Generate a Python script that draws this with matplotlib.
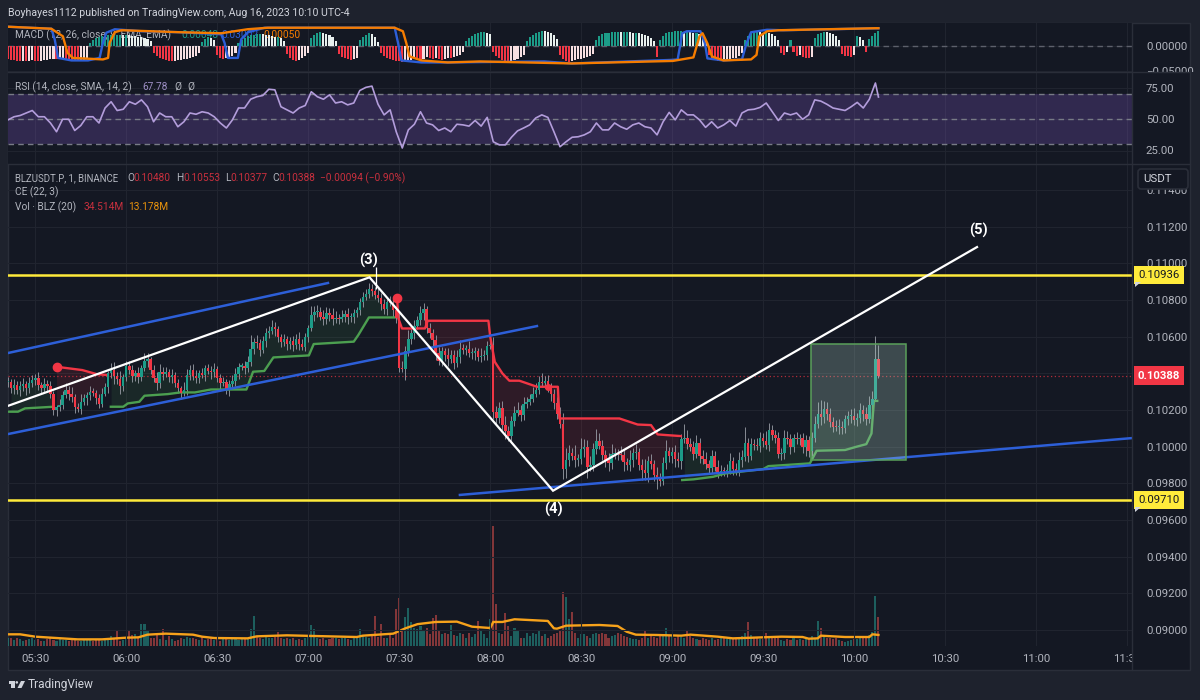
import matplotlib
matplotlib.use("Agg")
import matplotlib.pyplot as plt
import numpy as np
from matplotlib.patches import Circle, Polygon, Rectangle, FancyBboxPatch
from matplotlib.transforms import Bbox

plt.rcParams['font.family'] = ['Roboto', 'DejaVu Sans']

# candle data, prices in 1e-5 units, one candle per minute from 05:21
closes = [10353,10320,10337,10309,10331,10342,10320,10348,10364,10375,10337,10320,10342,10331,10290,10200,10216,10230,10280,10310,
          10290,10270,10215,10205,10245,10265,10280,10300,10295,10265,10235,10290,10325,10400,10420,10385,10370,10330,10380,10440,
          10420,10385,10400,10380,10430,10465,10480,10420,10375,10345,10410,10395,10405,10380,10390,10345,10320,10295,10310,10390,
          10420,10385,10375,10400,10390,10430,10415,10405,10425,10375,10345,10355,10310,10340,10360,10395,10437,10440,10430,10460,
          10535,10570,10565,10530,10575,10620,10630,10655,10640,10600,10570,10585,10560,10575,10555,10590,10560,10545,10600,10650,
          10720,10735,10735,10710,10695,10730,10720,10695,10700,10695,10710,10725,10705,10705,10730,10745,10790,10815,10835,10860,
          10850,10830,10810,10780,10750,10790,10785,10745,10700,10430,10425,10520,10590,10620,10660,10690,10730,10750,10650,10620,
          10580,10510,10465,10520,10500,10480,10500,10455,10490,10535,10530,10535,10510,10510,10520,10490,10495,10500,10550,10555,
          10190,10155,10210,10120,10085,10060,10140,10185,10200,10175,10235,10245,10260,10290,10310,10355,10345,10360,10330,10290,
          10240,10180,10125,9880,9925,9965,9950,9930,9935,9990,10000,9890,9900,9990,10030,10005,9955,9925,9910,9960,
          9965,9960,9955,9915,9900,9930,9965,9970,9900,9875,9855,9920,9905,9845,9825,9815,9910,9975,9950,9970,
          9935,9920,10040,10050,10015,10000,9960,10020,9950,9935,9905,9885,9950,9890,9860,9870,9865,9870,9920,9880,
          9870,9930,9945,10020,9950,10015,10010,10005,10050,10030,10010,10090,10065,10045,9960,9965,10050,10040,10000,10045,
          10040,10045,10000,10035,9975,10045,10125,10180,10160,10205,10180,10135,10110,10105,10110,10100,10150,10165,10170,10145,
          10155,10200,10180,10150,10225,10260,10480,10388]
wick_up = [25,15,30,20,25,35,15,30,25,20,30,15,35,20,25,15,10,30,25,40,
           20,35,15,25,40,25,20,30,20,15,25,30,20,15,35,40,25,45,15,30,
           30,25,20,35,15,45,30,10,25,35,40,25,30,20,35,15,25,10,45,35,
           25,30,35,20,30,15,20,25,30,15,20,25,15,25,30,35,20,15,30,35,
           75,25,40,20,30,25,30,35,25,20,15,30,20,25,30,25,35,25,20,15,
           45,30,40,25,35,30,25,35,40,25,35,20,30,25,20,15,20,30,25,35,
           25,20,35,30,25,15,30,25,20,30,40,30,45,20,30,25,40,35,15,25,
           20,30,35,25,20,40,30,25,35,45,25,20,40,30,25,20,45,30,25,35,
           45,30,35,40,50,30,25,35,45,30,35,25,30,35,40,30,45,25,30,20,
           25,30,35,60,70,45,30,60,25,55,40,35,50,30,65,45,30,25,40,55,
           30,25,45,35,25,50,30,45,25,35,60,30,40,25,45,30,35,60,25,30,
           40,35,30,75,40,35,30,45,25,30,35,20,30,25,40,30,20,35,45,25,
           30,40,35,85,30,35,25,40,30,25,55,40,30,25,35,30,40,35,30,25,
           35,25,30,30,25,35,40,65,75,45,40,30,25,35,40,30,25,30,35,40,
           30,40,25,35,50,45,123,73]
wick_dn = [30,25,35,20,30,25,40,25,20,30,25,35,20,30,25,25,30,20,25,15,
           35,25,30,15,25,20,35,25,20,30,25,20,15,30,25,45,30,40,25,20,
           25,30,25,35,20,15,30,25,20,35,25,30,15,25,30,20,25,35,20,30,
           25,20,30,25,15,30,20,35,25,20,30,15,25,35,20,30,25,20,35,25,
           20,30,25,35,20,30,25,15,35,30,25,20,30,25,35,20,30,15,25,30,
           20,35,25,20,30,25,35,30,20,25,15,30,35,25,30,20,25,30,15,25,
           30,25,20,35,25,30,20,35,25,20,20,60,25,30,35,20,25,40,30,25,
           30,35,20,25,30,40,25,30,20,35,25,30,20,30,35,25,30,20,25,15,
           40,35,25,30,45,30,40,25,20,35,30,25,20,15,20,25,20,25,30,40,
           35,30,25,55,50,30,25,40,35,30,45,60,25,35,30,20,25,35,40,30,
           25,35,30,45,25,35,40,30,25,55,35,50,25,30,55,30,25,30,35,40,
           45,30,40,20,30,25,35,20,40,30,25,35,30,25,30,20,25,30,20,35,
           25,30,40,25,35,20,30,25,35,30,25,35,30,25,20,35,30,25,40,30,
           25,30,35,50,30,25,20,25,40,30,35,25,30,20,35,30,25,30,35,25,
           30,25,40,30,20,25,10,11]

# volume in millions
volumes = [9,10,7,9,8,6,7,8,9,7,8,6,6,8,9,7,6,10,7,7,
           6,7,8,6,6,7,8,8,6,7,7,6,8,8,12,10,18,6,7,8,
           18,13,14,9,26,26,19,10,9,14,8,20,7,12,8,6,7,10,8,11,
           10,9,8,7,11,7,8,10,7,8,6,9,8,7,9,8,7,8,9,9,
           20,36,11,9,8,13,10,9,11,17,9,8,9,8,10,7,8,7,9,11,
           25,20,10,8,9,7,8,10,9,8,9,9,8,7,10,12,20,12,11,10,
           12,36,11,26,10,9,14,10,44,57,20,34,45,28,22,20,24,18,22,14,
           33,37,18,14,16,14,25,13,12,15,14,10,16,11,14,30,18,14,10,32,
           143,50,16,14,39,24,12,22,18,10,10,16,12,16,14,18,12,14,10,12,
           14,16,18,64,58,32,40,16,10,14,14,12,10,14,16,14,16,14,10,12,
           13,15,14,12,11,10,8,8,7,9,18,10,12,11,10,12,14,22,13,12,
           10,12,11,10,18,12,10,8,7,9,8,7,9,7,8,10,9,8,9,10,
           9,8,12,16,29,13,10,9,8,8,16,10,11,10,9,7,6,8,7,9,
           7,8,7,9,8,12,10,30,22,11,9,10,8,9,7,6,5,6,7,8,
           8,9,11,12,13,17,60,34.514]
vol_ma_idx = [0,4,9,16,23,31,39,43,46,52,61,64,68,79,82,92,101,115,117,127,131,135,141,148,153,159,160,163,167,178,180,181,184,195,
              201,204,207,214,222,225,234,239,255,262,264,267,268,276,284,285,287]
vol_ma = [13.9,13.9,11.1,9.5,7.9,7.9,9.9,10.3,13.5,14.7,13.5,11.1,9.5,9.1,11.5,12.7,11.9,10.7,12.3,14.7,21,26,28.6,29,23,21.4,28.6,28.6,31.8,29.8,21,20.6,24.2,25,
          23.8,17,13.5,13.1,12.3,13.5,11.1,9.1,11.1,10.7,8.7,9.1,12.3,10.7,10.7,13.9,13.178]

# RSI, every second candle plus the last one
rsi_vals = [49.5,52,53,55,57,52,52,47,40,50,50,41,45,52,52,47,59,64,57,58,64,62,65.5,60,48,55,52,52,44,48,55,54,56,55,52,47,43,49.5,59,59,
            66,68,69,74,73.5,60,57.5,55,59,61,72,68,66,69.5,63,64,61.5,63,73,75.5,76.5,62,53.5,57.5,40,27,41.5,46,56,47,45.5,41,43,40,46,45.5,44.5,49,44.5,51.5,
            32,29.5,29.5,35.6,40.7,43,45.5,51,53.5,51.5,40,28,32,35.6,36,37.5,40,47,41.5,41.5,47,44,42,45.5,47,44,43,37.5,48,55.5,49.5,57.5,53.5,53.5,49.5,43.5,48,43,
            45.5,49,44.5,55,57.5,58,59.5,63,56,49,55,53.5,55,50,53.5,65.5,64.5,62,59,58,57,60,63.5,59,66,79,67.78]

# MACD histogram per candle
macd_hist = [-.026,-.028,-.029,-.030,-.031,-.030,-.031,-.030,-.029,-.030,-.031,-.030,-.029,-.028,-.027,-.026,-.027,-.026,-.025,-.026,-.027,-.028,-.029,-.030,-.029,-.028,-.024,
             .006,.012,.016,.018,.019,.020,.021,.022,.022,.022,.022,.021,.022,.021,.020,.019,.018,.017,.016,.014,.010,
             -.014,-.020,-.024,-.026,-.028,-.030,-.031,-.030,-.029,-.028,-.027,-.026,-.024,-.022,-.020,-.014,
             .008,.014,.018,.016,.012,
             -.018,-.024,-.026,-.025,-.022,-.020,-.014,
             .006,.012,.016,.020,.022,.022,.024,.024,.023,.022,.021,.020,.018,.018,.016,.010,
             -.016,-.024,-.028,-.030,-.028,-.024,-.020,-.014,
             .016,.022,.026,.028,.026,.024,.022,.018,.010,
             -.016,-.022,-.024,-.026,-.028,-.027,-.024,
             .012,.018,.022,.026,.024,.018,.008,
             -.014,-.020,-.024,-.026,-.028,-.030,-.031,-.032,-.030,-.029,-.028,-.025,-.027,-.028,-.026,-.022,-.024,-.026,-.025,-.027,-.028,-.026,-.024,-.025,-.023,-.021,-.018,-.012,
             .010,.016,.020,.024,.026,.027,.028,.026,.024,
             -.012,-.020,-.024,-.028,-.030,-.032,-.030,-.028,-.026,-.022,-.018,
             .010,.018,.022,.026,.028,.030,.029,.028,.026,.022,.014,
             -.018,-.026,-.030,-.032,-.031,-.029,-.027,-.026,-.024,-.022,-.020,-.016,
             .012,.020,.024,.026,.026,.027,.027,.028,.027,.027,.028,.027,.026,.026,.025,.024,.022,.020,.016,.010,
             -.022,
             .012,.020,.026,.028,.028,.029,.029,.029,.028,.028,.027,.026,.026,.024,.020,.012,
             -.018,-.024,-.028,-.030,-.031,-.030,-.028,-.026,-.025,-.024,-.020,-.014,
             .012,.020,.026,.028,.028,.027,.026,.027,.026,.024,.020,.012,
             -.014,-.018,-.012,
             .012,
             -.012,-.020,-.018,-.022,-.024,-.025,-.022,
             .016,.024,.026,.028,.027,.026,.024,.020,.012,
             -.016,-.020,-.020,-.022,-.018,
             .020,.018,.012,
             -.012,
             .014,.020,.026,.030]

macd_orange_idx = [0,14.3,18.1,19.6,21.4,31.3,33,33.5,35.2,37.4,57,70.3,79,85.7,127.5,130.2,131.3,132.4,136.3,145,155.6,185.9,219.2,226,228,229,230.6,232.1,235.9,245,246.8,247.7,250.3,254,285.9,287]
macd_orange = [.038,.034,.019,-.014,-.024,-.027,-.024,.006,.027,.031,.027,.025,.033,.036,.036,.029,.006,-.021,-.029,-.033,-.031,-.035,-.030,-.023,.019,.025,.005,-.021,-.029,-.027,-.018,.019,.029,.031,.035,.035]
macd_blue_idx = [0,14.3,15.4,16.5,20.9,26.4,30.2,31.3,32.4,35.2,44,57,70.3,71.4,72.5,75.8,76.9,79.1,84.6,127.5,128.6,129.7,136.3,145,176.8,185.9,218.5,220.8,222.3,223.8,228.3,229.8,230.6,235.9,242,243.5,245,250.3,255.6,287]
macd_blue = [.038,.034,.013,-.024,-.029,-.029,-.024,.006,.026,.033,.029,.027,.023,.006,-.024,-.024,.013,.027,.036,.036,.006,-.029,-.033,-.033,-.031,-.035,-.028,-.027,.025,.029,.029,.005,-.025,-.029,-.027,.005,.027,.032,.031,.035]

# chandelier exit stop segments, prices in 1e-5 units
long1_idx = [0.2,3.3,5.6,15]
long1 = [10191,10191,10209,10218]
long2_idx = [33.9,38,39.5,43.3,45,52.7,56.8,61.6,66.9,78.6,80.8,84.5,87.5,99.2,100.8,114,115.5,119,127.5]
long2 = [10218,10218,10236,10245,10278,10287,10296,10296,10312,10312,10409,10413,10487,10498,10560,10573,10609,10705,10705]
long3_idx = [222.3,226,232.5,236.4,249,250.7,264.4,266.6,276,279.8,283,284.7,285.5,286.6]
long3 = [9818,9822,9836,9854,9878,9894,9909,9978,9982,10000,10014,10072,10250,10250]
short1_idx = [16,24.5,29.2,32.7]
short1 = [10436,10418,10396,10391]
short2_idx = [128.3,128.7,129.9,137.5,138.4,158.4,159,160.5,163,165.3,168.6,174.4,178,181.3,181.8,201.6,207.6,212,214.2,217.5,221.8]
short2 = [10809,10700,10645,10645,10687,10687,10600,10463,10400,10360,10360,10327,10327,10327,10154,10154,10121,10118,10067,10063,10058]

# drawings on the chart
level_hi = 0.10936
level_lo = 0.09710
last_price = 0.10388
wave_idx = [0.2,119.2,179.7,319.5]
wave_px = [10224,10924,9760,11089]
chan_upper_idx, chan_upper_px = [0,105.5], [10511,10893]
chan_lower_idx, chan_lower_px = [0,174.4], [10069,10658]
trend_idx, trend_px = [149,370.6], [9737,10047]
box_idx, box_px = [264.8,296], [9927.5,10558]

# 0.10400 sits behind the last price badge in the reference
price_ticks = [0.09000,0.09200,0.09400,0.09600,0.09800,0.10000,0.10200,0.10400,0.10600,0.10800,0.11000,0.11200,0.11400]
price_labels = ["0.09000","0.09200","0.09400","0.09600","0.09800","0.10000","0.10200","","0.10600","0.10800","0.11000","0.11200","0.11400"]
time_ticks = [330,360,390,420,450,480,510,540,570,600,630,660,690]
time_labels = ["05:30","06:00","06:30","07:00","07:30","08:00","08:30","09:00","09:30","10:00","10:30","11:00","11:30"]

BG = "#141823"
OUTER = "#1e222d"
GRID = "#20242f"
BORDER = "#2a2e39"
LABEL = "#b2b5be"
TEAL = "#1c9c88"
RED = "#f23645"
GREEN = "#4c9f50"
BLUE = "#2d5fd8"
LEGEND_SIZE = 7.3
SCALE = 1e-5
T0 = 321  # minute of day of the first candle


def pane(top, bottom):
    # axes from pixel rows of the 1200x700 picture
    return [8/1200, (700-bottom)/700, 1124/1200, (bottom-top)/700]


def style_pane(ax, ticks, labels):
    ax.set_facecolor(BG)
    ax.set_xlim(321, 691.6)
    ax.set_xticks(time_ticks)
    ax.set_yticks(ticks)
    ax.yaxis.tick_right()
    ax.set_yticklabels(labels, color=LABEL, fontsize=8.2)
    ax.tick_params(axis="both", length=0, pad=10)
    ax.grid(True, color=GRID, lw=0.8)
    ax.set_axisbelow(True)
    for s in ax.spines.values():
        s.set_visible(False)


fig = plt.figure(figsize=(12, 7), dpi=100, facecolor=OUTER)

closes_a = np.array(closes)
opens_a = np.array([closes[0]] + closes[:-1])
idx = np.arange(len(closes))
minute = T0 + idx
up = closes_a >= opens_a

ax_top = fig.add_axes([0, 0, 1, 1], zorder=10)
ax_top.set_xlim(0, 1200)
ax_top.set_ylim(700, 0)
ax_top.axis("off")

ax_bg = fig.add_axes([0, 0, 1, 1], zorder=0)
ax_bg.set_xlim(0, 1200)
ax_bg.set_ylim(700, 0)
ax_bg.axis("off")
ax_bg.add_patch(Rectangle((8, 23), 1182, 647, fc=BG, ec=BORDER, lw=1))

# MACD pane
ax_macd = fig.add_axes(pane(23, 72), zorder=2)
style_pane(ax_macd, [0.0, -0.05], ["0.00000", "\u22120.05000"])
ax_macd.set_ylim(-0.052, 0.0454)
ax_macd.set_xticklabels([])
ax_macd.axhline(0, color="#5d606b", lw=1, ls=(0, (4, 3)), zorder=1)
ax_macd.text(15, 35, "MACD (12, 26, close, 9, EMA, EMA)", color=LABEL, fontsize=LEGEND_SIZE, va="center", transform=ax_top.transData, zorder=1)
ax_macd.text(181, 35, "0.00048", color=TEAL, fontsize=LEGEND_SIZE, va="center", transform=ax_top.transData, zorder=1)
ax_macd.text(221, 35, "0.03002", color=BLUE, fontsize=LEGEND_SIZE, va="center", transform=ax_top.transData, zorder=1)
ax_macd.text(263, 35, "0.00050", color="#f57c00", fontsize=LEGEND_SIZE, va="center", transform=ax_top.transData, zorder=1)
hist = np.array(macd_hist)
prev = np.concatenate([[hist[0]], hist[:-1]])
hist_colors = []
for h, p in zip(hist, prev):
    if h >= 0:
        hist_colors.append(TEAL if h >= p else "#e8f0ee")
    else:
        hist_colors.append(RED if h <= p else "#f7dfe1")
ax_macd.bar(minute, hist, width=0.68, color=hist_colors, zorder=2)
ax_macd.plot(T0 + np.array(macd_blue_idx), macd_blue, color=BLUE, lw=1.7, zorder=3)
ax_macd.plot(T0 + np.array(macd_orange_idx), macd_orange, color="#f57c00", lw=1.7, zorder=4)

# RSI pane
ax_rsi = fig.add_axes(pane(72, 164), zorder=2)
style_pane(ax_rsi, [25, 50, 75], ["25.00", "50.00", "75.00"])
ax_rsi.set_ylim(14.2, 87.8)
ax_rsi.set_xticklabels([])
ax_rsi.axhspan(30, 70, color="#7e57c2", alpha=0.28, lw=0)
for lev in (30, 50, 70):
    ax_rsi.axhline(lev, color="#787b86", lw=1, ls=(0, (4, 3)))
rsi_x = T0 + np.array(list(range(0, 288, 2)) + [287])
ax_rsi.plot(rsi_x, rsi_vals, color="#b39ddb", lw=1.2)
ax_rsi.text(15, 87, "RSI (14, close, SMA, 14, 2)", color=LABEL, fontsize=LEGEND_SIZE, va="center", transform=ax_top.transData)
ax_rsi.text(142, 87, "67.78", color="#9d8fc4", fontsize=LEGEND_SIZE, va="center", transform=ax_top.transData)
ax_rsi.text(174, 87, "\u00d8", color=LABEL, fontsize=LEGEND_SIZE, va="center", transform=ax_top.transData)
ax_rsi.text(187, 87, "\u00d8", color=LABEL, fontsize=LEGEND_SIZE, va="center", transform=ax_top.transData)

# volume sits under the candles on its own scale
ax_vol = fig.add_axes(pane(164, 646), zorder=2)
ax_vol.set_facecolor(BG)
ax_vol.set_xlim(321, 691.6)
ax_vol.set_ylim(0, 482 * 1.19)
ax_vol.axis("off")

ax = fig.add_axes(pane(164, 646), zorder=3)
style_pane(ax, price_ticks, price_labels)
ax.set_facecolor("none")
ax.set_ylim(0.08913, 0.11542)
ax.set_xticklabels(time_labels, color=LABEL, fontsize=8.2)
ax.tick_params(axis="x", pad=6)

vol_colors = [(0.15, 0.65, 0.60, 0.5) if u else (0.94, 0.33, 0.31, 0.5) for u in up]
ax_vol.bar(minute, volumes, width=0.68, color=vol_colors)
ax_vol.plot(T0 + np.array(vol_ma_idx), vol_ma, color="#f7a21b", lw=1.7, solid_joinstyle="round")

# chandelier exit fills and lines
for seg_x, seg_y, col in [(long1_idx, long1, GREEN), (short1_idx, short1, RED), (long2_idx, long2, GREEN),
                          (short2_idx, short2, RED), (long3_idx, long3, GREEN)]:
    i0, i1 = int(np.ceil(seg_x[0])), int(np.floor(seg_x[-1]))
    xs = np.arange(i0, i1 + 1)
    stop = np.interp(xs, seg_x, seg_y)
    ax.fill_between(T0 + xs, stop * SCALE, closes_a[xs] * SCALE, color=col, alpha=0.12, lw=0, zorder=1.5)
    ax.plot(T0 + np.array(seg_x), np.array(seg_y) * SCALE, color=col, lw=1.7, zorder=2.6, solid_joinstyle="round")
ax.plot(T0 + short1_idx[0], short1[0] * SCALE, "o", color=RED, ms=6, zorder=5)
ax.plot(T0 + short2_idx[0], short2[0] * SCALE, "o", color=RED, ms=6, zorder=5)
ax.plot(T0 + 178, 10327 * SCALE, "o", color=RED, ms=4, zorder=5)

# candles
highs = (np.maximum(opens_a, closes_a) + np.array(wick_up)) * SCALE
lows = (np.minimum(opens_a, closes_a) - np.array(wick_dn)) * SCALE
ax.vlines(minute, lows, highs, color="#9a9ea7", lw=0.6, zorder=2)
body_colors = [TEAL if u else RED for u in up]
body = np.maximum(np.abs(closes_a - opens_a), 7) * SCALE
ax.bar(minute, body, bottom=np.minimum(opens_a, closes_a) * SCALE, width=0.8, color=body_colors, zorder=3)

# drawings
ax.axhline(last_price, color=RED, lw=0.9, ls=(0, (1, 2)), alpha=0.7, zorder=1.8)
ax.axhline(level_hi, color="#ffeb3b", lw=1.8, zorder=4)
ax.axhline(level_lo, color="#ffeb3b", lw=1.8, zorder=4)
for xs, ys in [(chan_upper_idx, chan_upper_px), (chan_lower_idx, chan_lower_px), (trend_idx, trend_px)]:
    ax.plot(T0 + np.array(xs), np.array(ys) * SCALE, color=BLUE, lw=1.8, zorder=4)
ax.plot(T0 + np.array(wave_idx), np.array(wave_px) * SCALE, color="white", lw=1.6, zorder=4.5, solid_joinstyle="miter")
ax.vlines(T0 + 121.2, 0.1086, 0.1098, color="white", lw=0.9, zorder=4.5)
ax.add_patch(Rectangle((T0 + box_idx[0], box_px[0] * SCALE), box_idx[1] - box_idx[0], (box_px[1] - box_px[0]) * SCALE,
                       fc=(0.73, 0.886, 0.82, 0.25), ec="#5aa05a", lw=1.1, zorder=4.2))
ax.text(T0 + 119, 0.11018, "(3)", color="white", fontsize=10.5, fontweight="bold", ha="center", va="center", zorder=6)
ax.text(T0 + 180, 0.09658, "(4)", color="white", fontsize=10.5, fontweight="bold", ha="center", va="center", zorder=6)
ax.text(T0 + 320, 0.11180, "(5)", color="white", fontsize=10.5, fontweight="bold", ha="center", va="center", zorder=6)

# price badges on the axis
ytr = ax.get_yaxis_transform()
badge_x = (1159 - 8) / 1124
badge_font = 8.2
ax.text(badge_x, level_hi, f"{level_hi:.5f}", transform=ytr, color="#131722", fontsize=badge_font, ha="center", va="center", clip_on=False, zorder=8,
        bbox=dict(boxstyle="square,pad=0.36", fc="#ffeb3b", ec="none"))
ax.text(badge_x, level_lo, f"{level_lo:.5f}", transform=ytr, color="#131722", fontsize=badge_font, ha="center", va="center", clip_on=False, zorder=8,
        bbox=dict(boxstyle="square,pad=0.36", fc="#ffeb3b", ec="none"))
ax.text(badge_x, last_price, f"{last_price:.5f}", transform=ytr, color="white", fontsize=badge_font, fontweight="bold", ha="center", va="center", clip_on=False, zorder=8,
        bbox=dict(boxstyle="square,pad=0.36", fc=RED, ec="none"))

# cut off the labels that run past their pane
fig.canvas.draw()
ax_macd.get_yticklabels()[1].set_clip_box(Bbox([[1132, 700 - 72], [1195, 700 - 23]]))
ax_macd.get_yticklabels()[1].set_clip_on(True)
ax.get_xticklabels()[-1].set_clip_box(Bbox([[0, 0], [1133, 700]]))
ax.get_xticklabels()[-1].set_clip_on(True)

# chrome and legends
ax_top.plot([1132, 1132], [23, 670], color=BORDER, lw=1)
ax_top.plot([8, 1190], [72, 72], color=BORDER, lw=1)
ax_top.plot([8, 1190], [164, 164], color=BORDER, lw=1)
ax_top.add_patch(FancyBboxPatch((1138, 169), 50, 20, boxstyle="round,pad=0,rounding_size=3", fc=BG, ec=BORDER, lw=1.2))
ax_top.text(1158, 179, "USDT", color="#d1d4dc", fontsize=8.2, ha="center", va="center")
ax_top.add_patch(Polygon([[1135, 282], [1141, 282], [1135, 287]], fc="#d1d4dc", ec="none"))
ax_top.add_patch(Polygon([[1135, 507], [1141, 507], [1135, 512]], fc="#d1d4dc", ec="none"))

ax_top.text(8, 12.5, "Boyhayes1112 published on TradingView.com, Aug 16, 2023 10:10 UTC-4", color="#d1d4dc", fontsize=7.6, va="center")
ax_top.text(15, 178, "BLZUSDT.P, 1, BINANCE", color=LABEL, fontsize=6.9, va="center")
DOWN_TXT = "#c9303e"
for x0, letter, x1, val in [(127, "O", 133, "0.10480"), (176, "H", 183, "0.10553"), (225, "L", 230, "0.10377"), (272, "C", 278, "0.10388")]:
    ax_top.text(x0, 178, letter, color=LABEL, fontsize=LEGEND_SIZE, va="center")
    ax_top.text(x1, 178, val, color=DOWN_TXT, fontsize=LEGEND_SIZE, va="center")
ax_top.text(320, 178, "\u22120.00094 (\u22120.90%)", color=DOWN_TXT, fontsize=LEGEND_SIZE, va="center")
ax_top.text(15, 192, "CE (22, 3)", color=LABEL, fontsize=LEGEND_SIZE, va="center")
ax_top.text(15, 207, "Vol \u00b7 BLZ (20)", color=LABEL, fontsize=LEGEND_SIZE, va="center")
ax_top.text(84, 207, "34.514M", color=DOWN_TXT, fontsize=LEGEND_SIZE, va="center")
ax_top.text(128, 207, "13.178M", color="#e8930c", fontsize=LEGEND_SIZE, va="center")

# TradingView mark
ax_top.add_patch(Polygon([[8.5, 681], [14.5, 681], [14.5, 688], [11, 688], [11, 683.5], [8.5, 683.5]], fc="#d1d4dc", ec="none"))
ax_top.add_patch(Circle((16.8, 682.4), 1.3, fc="#d1d4dc", ec="none"))
ax_top.add_patch(Polygon([[21, 681], [25, 681], [21.5, 688], [17.5, 688]], fc="#d1d4dc", ec="none"))
ax_top.text(28, 684.5, "TradingView", color="#d1d4dc", fontsize=8.6, va="center")

fig.savefig("out.png", dpi=100, facecolor=OUTER)
